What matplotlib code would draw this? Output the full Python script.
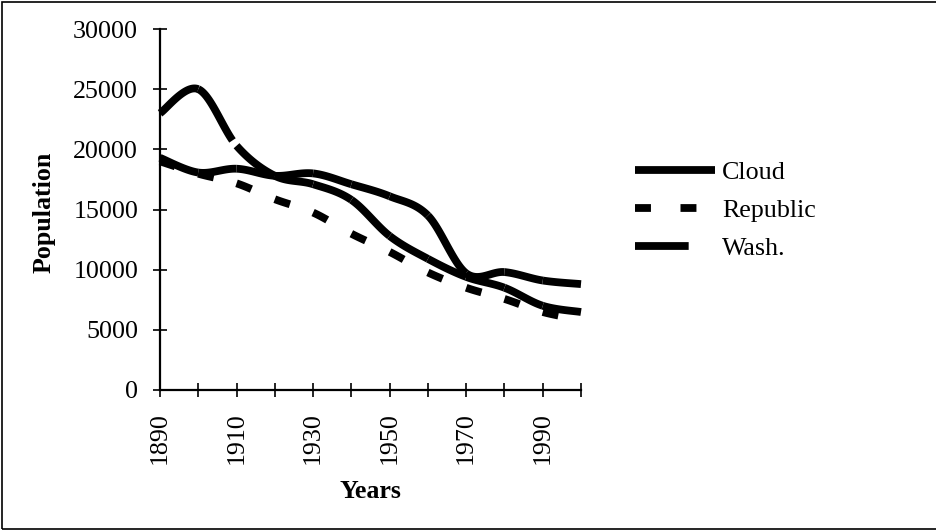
import numpy as np
import matplotlib
matplotlib.use("Agg")
import matplotlib.pyplot as plt
from matplotlib.lines import Line2D
from matplotlib.patches import Rectangle

# Census years and county populations
years = [1890, 1900, 1910, 1920, 1930, 1940, 1950, 1960, 1970, 1980, 1990, 2000]
cloud = [19295, 18071, 18388, 17800, 18000, 17100, 16100, 14500, 9700, 9800, 9100, 8800]
republic = [19002, 17975, 17175, 15855, 14745, 12989, 11478, 9768, 8498, 7569, 6482, 5835]
wash = [23000, 25000, 20300, 17800, 17100, 15800, 12800, 10900, 9400, 8500, 7000, 6480]

series_names = ["Cloud", "Republic", "Wash."]
y_ticks = [0, 5000, 10000, 15000, 20000, 25000, 30000]
x_labels = ["1890", "", "1910", "", "1930", "", "1950", "", "1970", "", "1990", ""]


def smooth_segments(xs, ys, n=40):
    """Cubic Bezier pieces between consecutive points (Catmull-Rom tangents)."""
    p = np.column_stack([xs, ys]).astype(float)
    ext = np.vstack([p[0], p, p[-1]])
    t = np.linspace(0, 1, n)[:, None]
    pieces = []
    for i in range(len(p) - 1):
        p0, p1, p2, p3 = ext[i], ext[i + 1], ext[i + 2], ext[i + 3]
        b1 = p1 + (p2 - p0) / 6.0
        b2 = p2 - (p3 - p1) / 6.0
        seg = ((1 - t) ** 3) * p1 + 3 * ((1 - t) ** 2) * t * b1 \
            + 3 * (1 - t) * t ** 2 * b2 + t ** 3 * p2
        pieces.append(seg)
    return pieces


def draw_series(ax, xs, ys, **style):
    # the dash pattern restarts at every data point, one piece per interval
    for seg in smooth_segments(xs, ys):
        ax.plot(seg[:, 0], seg[:, 1], color="black", clip_on=False,
                solid_capstyle="butt", dash_capstyle="butt", **style)


FS = 18.7
plt.rcParams["font.family"] = ["Liberation Serif", "DejaVu Serif"]

fig = plt.figure(figsize=(9.37, 5.31), dpi=100)
ax = fig.add_axes([160 / 937, 1 - 390 / 531, (581 - 160) / 937, (390 - 29) / 531])

lw = 5.6
rep_style = (0, (2.05, 40))
wash_style = (0, (8, 3))
draw_series(ax, years, cloud, lw=lw, ls="-")
draw_series(ax, years, republic, lw=lw, ls=rep_style)
draw_series(ax, years, wash, lw=lw, ls=wash_style)

ax.set_xlim(1890, 2000)
ax.set_ylim(0, 30000)
ax.set_yticks(y_ticks)
ax.set_yticklabels([str(v) for v in y_ticks])
ax.set_xticks(years)
ax.set_xticklabels(x_labels, rotation=90)

for side in ["top", "right"]:
    ax.spines[side].set_visible(False)
for side in ["left", "bottom"]:
    ax.spines[side].set_linewidth(1.6)
ax.tick_params(direction="inout", length=10.5, width=1.2, labelsize=FS, pad=10.5, color="black")

ax.set_ylabel("Population", fontsize=FS, fontweight="bold")
ax.yaxis.set_label_coords((44 - 160) / 421, (390 - 212) / 361)
ax.yaxis.label.set_va("center")
ax.set_xlabel("Years", fontsize=FS, fontweight="bold")
ax.xaxis.set_label_coords(0.5, -(491 - 390) / 361)
ax.xaxis.label.set_va("center")

handles = [
    Line2D([], [], color="black", lw=lw, solid_capstyle="butt"),
    Line2D([], [], color="black", lw=lw, ls=(0, (2.05, 3.8)), dash_capstyle="butt"),
    Line2D([], [], color="black", lw=lw, ls=(0, (6.9, 5)), dash_capstyle="butt"),
]
ax.legend(handles, series_names,
          loc="upper left", bbox_to_anchor=(635 / 937, 1 - 161 / 531),
          bbox_transform=fig.transFigure, frameon=False, fontsize=FS,
          borderpad=0, borderaxespad=0,
          handlelength=80 / (FS * 100 / 72), handletextpad=0.27, labelspacing=0.56)

fig.patches.append(Rectangle((2 / 937, 2.5 / 531), 1.2, 1 - 4 / 531,
                             transform=fig.transFigure, fill=False,
                             edgecolor="black", linewidth=1.2))

fig.savefig("out.png", dpi=100, facecolor="white")
